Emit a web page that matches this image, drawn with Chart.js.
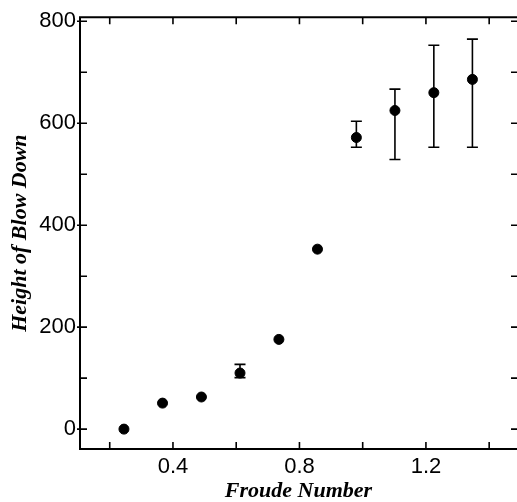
<!DOCTYPE html>
<html>
<head>
<meta charset="utf-8">
<script src="https://cdn.jsdelivr.net/npm/chart.js@4.4.0/dist/chart.umd.min.js"></script>
<style>
  html, body { margin: 0; padding: 0; background: #fff; }
  #wrap { width: 517px; height: 502px; position: relative; }
</style>
</head>
<body>
<div id="wrap"><canvas id="blowdown"></canvas></div>
<script>
// values
const froude = [0.245, 0.367, 0.49, 0.612, 0.735, 0.857, 0.98, 1.102, 1.225, 1.347];
const blowHeight = [0, 51, 63, 110, 176, 353, 572, 625, 660, 686];
const errTop = [null, null, null, 127, null, null, 604, 667, 753, 765];
const errBottom = [null, null, null, 101, null, null, 553, 529, 553, 553];

const xTickLabels = [0.4, 0.8, 1.2];
const yTickLabels = [0, 200, 400, 600, 800];
const xTickMarks = [0.2, 0.4, 0.6, 0.8, 1.0, 1.2, 1.4];
const yTickMarks = [0, 100, 200, 300, 400, 500, 600, 700, 800];

// error bars, frame and inward ticks
const decorations = {
  id: 'decorations',
  afterDatasetsDraw(chart) {
    const ctx = chart.ctx;
    const xs = chart.scales.x, ys = chart.scales.y;
    const a = chart.chartArea;
    ctx.save();
    ctx.strokeStyle = '#000';

    ctx.lineWidth = 1.6;
    froude.forEach((f, i) => {
      if (errTop[i] == null) return;
      const px = xs.getPixelForValue(f);
      const top = ys.getPixelForValue(errTop[i]);
      const bot = ys.getPixelForValue(errBottom[i]);
      ctx.beginPath();
      ctx.moveTo(px, top); ctx.lineTo(px, bot);
      ctx.moveTo(px - 5.5, top); ctx.lineTo(px + 5.5, top);
      ctx.moveTo(px - 5.5, bot); ctx.lineTo(px + 5.5, bot);
      ctx.stroke();
    });

    ctx.lineWidth = 2;
    ctx.beginPath();
    ctx.moveTo(a.right + 2, a.top); ctx.lineTo(a.left, a.top);
    ctx.lineTo(a.left, a.bottom); ctx.lineTo(a.right + 2, a.bottom);
    ctx.stroke();

    ctx.lineWidth = 1.6;
    ctx.beginPath();
    xTickMarks.forEach(v => {
      const px = xs.getPixelForValue(v);
      ctx.moveTo(px, a.bottom); ctx.lineTo(px, a.bottom - 7);
      ctx.moveTo(px, a.top); ctx.lineTo(px, a.top + 7);
    });
    yTickMarks.forEach(v => {
      const py = ys.getPixelForValue(v);
      const labelled = yTickLabels.includes(v);
      ctx.moveTo(labelled ? a.left - 3 : a.left, py); ctx.lineTo(a.left + 7, py);
      ctx.moveTo(a.right, py); ctx.lineTo(a.right - 6, py);
    });
    ctx.stroke();
    ctx.restore();
  }
};

new Chart(document.getElementById('blowdown'), {
  type: 'scatter',
  data: {
    datasets: [{
      data: froude.map((f, i) => ({ x: f, y: blowHeight[i] })),
      backgroundColor: '#000',
      borderColor: '#000',
      borderWidth: 1,
      pointRadius: 5,
      pointHoverRadius: 5
    }]
  },
  options: {
    responsive: true,
    maintainAspectRatio: false,
    animation: false,
    layout: { autoPadding: false, padding: { top: 14, right: 0, bottom: 0, left: 0 } },
    plugins: { legend: { display: false }, tooltip: { enabled: false } },
    scales: {
      x: {
        type: 'linear',
        min: 0.106,
        max: 1.488,
        afterBuildTicks: s => { s.ticks = xTickLabels.map(v => ({ value: v })); },
        afterFit: s => { s.height = 53; },
        grid: { display: false, drawTicks: false },
        border: { display: false },
        ticks: {
          color: '#000',
          padding: 5,
          maxRotation: 0,
          font: { family: '"Liberation Sans", Arial, sans-serif', size: 22 },
          callback: v => v.toFixed(1)
        },
        title: {
          display: true,
          text: 'Froude Number',
          color: '#000',
          padding: 0,
          font: { family: '"Liberation Serif", "Times New Roman", serif', size: 22, style: 'italic', weight: 'bold', lineHeight: 1.0 }
        }
      },
      y: {
        type: 'linear',
        min: -39,
        max: 808,
        afterBuildTicks: s => { s.ticks = yTickLabels.map(v => ({ value: v })); },
        afterFit: s => { s.width = 80; },
        grid: { display: false, drawTicks: false },
        border: { display: false },
        ticks: {
          color: '#000',
          padding: 4,
          font: { family: '"Liberation Sans", Arial, sans-serif', size: 22 },
          callback: v => String(v)
        },
        title: {
          display: true,
          text: 'Height of Blow Down',
          color: '#000',
          padding: { top: 9, bottom: 0 },
          font: { family: '"Liberation Serif", "Times New Roman", serif', size: 22, style: 'italic', weight: 'bold', lineHeight: 1.0 }
        }
      }
    }
  },
  plugins: [decorations]
});
</script>
</body>
</html>
